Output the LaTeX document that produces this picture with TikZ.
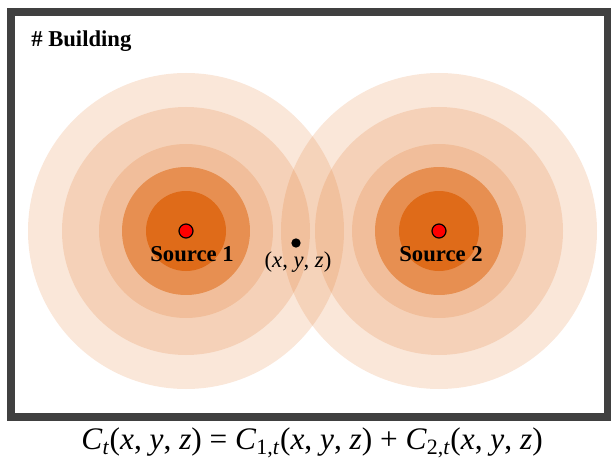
\documentclass[tikz,border=0pt]{standalone}
\usepackage{fontspec}
\setmainfont{Liberation Serif}
\usepackage{tikz}
\usetikzlibrary{positioning}
\definecolor{wallgray}{RGB}{64,64,64}
\definecolor{plume}{RGB}{222,104,20}

\tikzset{
  srcdot/.style={circle, draw=black, fill=red, line width=0.9pt, minimum size=10.5pt, inner sep=0pt},
  ptdot/.style={circle, fill=black, minimum size=7pt, inner sep=0pt},
  srclabel/.style={font=\fontsize{17}{20}\selectfont\bfseries, inner sep=0pt}
}

\begin{document}
\begin{tikzpicture}[x=0.75pt, y=-0.75pt]
  \useasboundingbox (0,0) rectangle (611,467);

  % concentration rings, stacked with transparency
  \foreach \cx in {186,439}{
    \foreach \r/\op in {158/0.16, 124/0.17, 87/0.18, 64/0.55, 40/0.92}{
      \fill[plume, fill opacity=\op] (\cx,231) circle (\r);
    }
  }

  % building wall
  \draw[wallgray, line width=6pt] (11,12) rectangle (608,417);
  \node[font=\fontsize{17}{20}\selectfont\bfseries, anchor=west, inner sep=0pt] (bldg) at (31,41) {\# Building};

  \node[srcdot] (src1) at (186,231) {};
  \node[srcdot] (src2) at (439,231) {};
  \node[srclabel] (lab1) at (192,254) {Source 1};
  \node[srclabel] (lab2) at (441,254) {Source 2};

  \node[ptdot] (pt) at (296,243) {};
  \node[font=\fontsize{17}{20}\selectfont, inner sep=0pt] (ptlab) at (298,262)
    {(\textit{x}, \textit{y}, \textit{z})};

  \node[font=\fontsize{23.5}{28}\selectfont, inner sep=0pt] (eqn) at (312,443)
    {\textit{C}\textsubscript{\textit{t}}(\textit{x}, \textit{y}, \textit{z}) = \textit{C}\textsubscript{1,\textit{t}}(\textit{x}, \textit{y}, \textit{z}) + \textit{C}\textsubscript{2,\textit{t}}(\textit{x}, \textit{y}, \textit{z})};
\end{tikzpicture}
\end{document}
